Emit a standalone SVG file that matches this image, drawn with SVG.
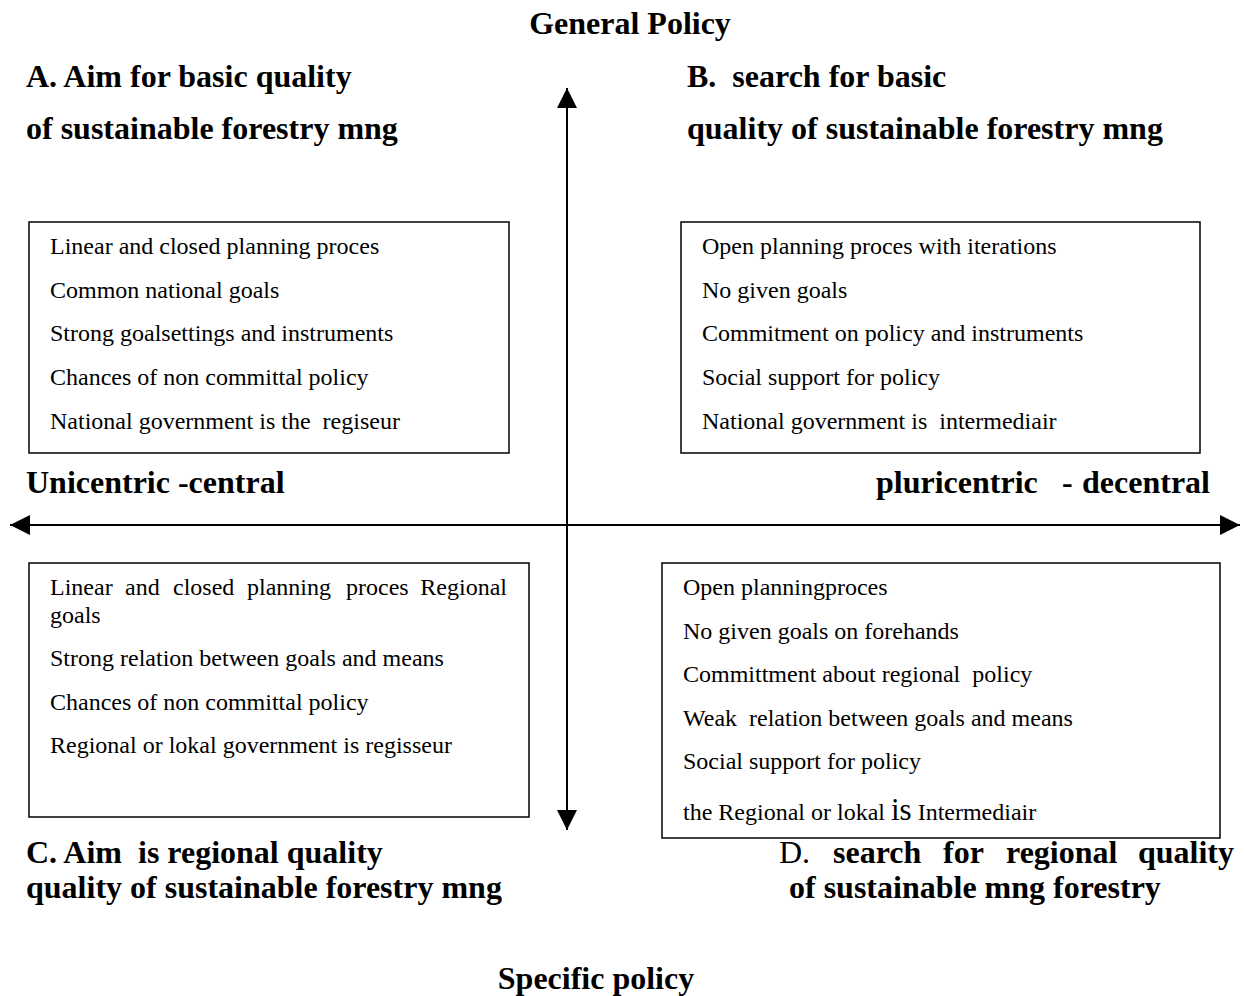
<svg xmlns="http://www.w3.org/2000/svg" width="1245" height="996" viewBox="0 0 1245 996">
<style>
.h{font-family:"Liberation Serif","Times New Roman",serif;font-weight:bold;font-size:32px;fill:#000}
.t{font-family:"Liberation Serif","Times New Roman",serif;font-size:24px;fill:#000}
.box{fill:#fff;stroke:#000;stroke-width:1.5}
.ax{stroke:#000;stroke-width:2;fill:none}
</style>
<defs>
<marker id="ah2" viewBox="0 0 20 20" refX="20" refY="10" markerWidth="22" markerHeight="20" markerUnits="userSpaceOnUse" orient="auto">
<path d="M0,0 L20,10 L0,20 Z" fill="#000"/>
</marker>
</defs>
<rect width="1245" height="996" fill="#fff"/>
<g id="connectors">
<line class="ax" x1="567" y1="830" x2="567" y2="88" marker-end="url(#ah2)"/>
<line class="ax" x1="567" y1="100" x2="567" y2="830" marker-end="url(#ah2)"/>
<line class="ax" x1="30" y1="525" x2="1240" y2="525" marker-end="url(#ah2)"/>
<line class="ax" x1="1220" y1="525" x2="10" y2="525" marker-end="url(#ah2)"/>
</g>
<g id="titles">
<text class="h" x="630" y="34" text-anchor="middle">General Policy</text>
<text class="h" x="596" y="989" text-anchor="middle">Specific policy</text>
<text class="h" x="26" y="493">Unicentric -central</text>
<text class="h" x="876" y="493">pluricentric</text>
<text class="h" x="1062" y="493" font-weight="normal">-</text>
<text class="h" x="1210" y="493" text-anchor="end">decentral</text>
</g>
<g id="label-A">
<text class="h" x="26" y="87">A. Aim for basic quality</text>
<text class="h" x="26" y="139">of sustainable forestry mng</text>
</g>
<g id="label-B">
<text class="h" x="687" y="87" xml:space="preserve">B.  search for basic</text>
<text class="h" x="687" y="139">quality of sustainable forestry mng</text>
</g>
<g id="label-C">
<text class="h" x="26" y="863" xml:space="preserve">C. Aim  is regional quality</text>
<text class="h" x="26" y="898">quality of sustainable forestry mng</text>
</g>
<g id="label-D">
<text class="h" y="863"><tspan x="779" font-weight="normal">D.</tspan><tspan x="833">search</tspan><tspan x="943">for</tspan><tspan x="1006">regional</tspan><tspan x="1234" text-anchor="end">quality</tspan></text>
<text class="h" x="789" y="898">of sustainable mng forestry</text>
</g>
<g id="box-A">
<rect class="box" x="29" y="222" width="480" height="231"/>
<text class="t" x="50" y="254">Linear and closed planning proces</text>
<text class="t" x="50" y="298">Common national goals</text>
<text class="t" x="50" y="341">Strong goalsettings and instruments</text>
<text class="t" x="50" y="385">Chances of non committal policy</text>
<text class="t" x="50" y="429" xml:space="preserve">National government is the  regiseur</text>
</g>
<g id="box-B">
<rect class="box" x="681" y="222" width="519" height="231"/>
<text class="t" x="702" y="254">Open planning proces with iterations</text>
<text class="t" x="702" y="298">No given goals</text>
<text class="t" x="702" y="341">Commitment on policy and instruments</text>
<text class="t" x="702" y="385">Social support for policy</text>
<text class="t" x="702" y="429" xml:space="preserve">National government is  intermediair</text>
</g>
<g id="box-C">
<rect class="box" x="29" y="563" width="500" height="254"/>
<text class="t" y="595"><tspan x="50">Linear</tspan><tspan x="125">and</tspan><tspan x="173">closed</tspan><tspan x="247">planning</tspan><tspan x="346">proces</tspan><tspan x="507" text-anchor="end">Regional</tspan></text>
<text class="t" x="50" y="623">goals</text>
<text class="t" x="50" y="666">Strong relation between goals and means</text>
<text class="t" x="50" y="710">Chances of non committal policy</text>
<text class="t" x="50" y="753">Regional or lokal government is regisseur</text>
</g>
<g id="box-D">
<rect class="box" x="662" y="563" width="558" height="275"/>
<text class="t" x="683" y="595">Open planningproces</text>
<text class="t" x="683" y="639">No given goals on forehands</text>
<text class="t" x="683" y="682" xml:space="preserve">Committment about regional  policy</text>
<text class="t" x="683" y="726" xml:space="preserve">Weak  relation between goals and means</text>
<text class="t" x="683" y="769">Social support for policy</text>
<text class="t" x="683" y="820">the Regional or lokal <tspan font-size="31">is</tspan> Intermediair</text>
</g>
</svg>
